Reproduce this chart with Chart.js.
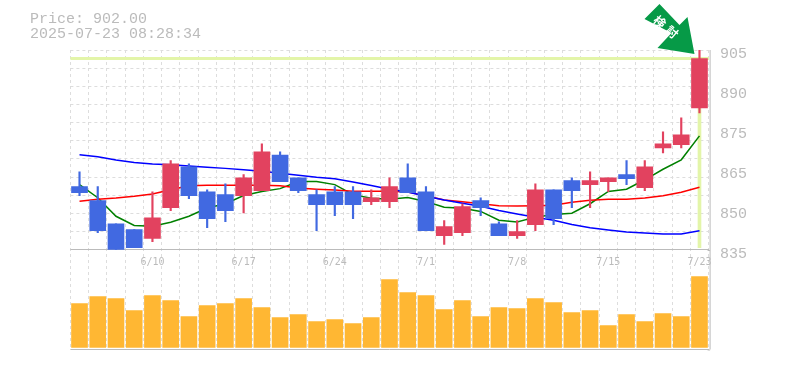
<!DOCTYPE html>
<html>
<head>
<meta charset="utf-8">
<style>
  html, body { margin: 0; padding: 0; background: #fff; }
  canvas { display: block; }
</style>
<script src="https://cdn.jsdelivr.net/npm/chart.js@4"></script>
</head>
<body>
<canvas id="chart-price" width="785" height="370"></canvas>
<script>
const dates = ["6/4", "6/5", "6/6", "6/9", "6/10", "6/11", "6/12", "6/13", "6/16", "6/17", "6/18", "6/19", "6/20", "6/23", "6/24", "6/25", "6/26", "6/27", "6/30", "7/1", "7/2", "7/3", "7/4", "7/7", "7/8", "7/9", "7/10", "7/11", "7/14", "7/15", "7/16", "7/17", "7/18", "7/22", "7/23"];
const shownDates = ["6/10", "6/17", "6/24", "7/1", "7/8", "7/15", "7/23"];

const opens = [857.1, 852.2, 844.1, 842.0, 838.9, 849.7, 864.0, 855.3, 854.3, 853.9, 855.7, 868.2, 860.2, 854.3, 855.3, 855.3, 851.8, 851.8, 860.2, 855.3, 839.9, 841.0, 852.2, 844.1, 839.9, 843.8, 856.0, 859.2, 857.8, 858.8, 861.3, 856.7, 870.7, 871.8, 884.7];
const closes = [855.0, 841.7, 834.6, 835.7, 846.2, 865.1, 853.9, 845.9, 848.7, 860.2, 869.3, 858.8, 855.7, 850.8, 850.8, 850.8, 853.2, 857.1, 855.0, 841.7, 843.1, 850.1, 849.7, 839.9, 841.3, 856.0, 845.9, 855.7, 859.2, 860.2, 859.9, 864.0, 872.1, 875.3, 902.0];
const highs = [862.3, 857.1, 844.1, 842.0, 855.3, 866.2, 865.1, 856.0, 858.1, 861.3, 872.1, 869.3, 860.2, 856.0, 857.1, 857.1, 856.0, 860.2, 865.1, 857.1, 845.2, 851.1, 853.2, 844.8, 845.2, 858.1, 856.0, 860.2, 862.3, 860.2, 866.2, 866.2, 876.3, 881.2, 905.0];
const lows = [853.9, 841.0, 834.6, 835.7, 837.8, 848.7, 852.9, 842.7, 844.8, 847.9, 855.7, 858.8, 855.0, 841.7, 846.9, 845.9, 850.8, 849.7, 855.0, 841.7, 836.8, 839.9, 846.9, 839.9, 838.9, 841.7, 843.8, 849.7, 849.7, 855.3, 857.8, 855.7, 868.9, 870.7, 882.9];

const maShort = [857.8, 853.2, 846.7, 843.5, 843.2, 844.6, 846.7, 849.6, 851.1, 854.0, 855.4, 856.4, 858.9, 858.9, 857.8, 854.3, 853.0, 852.7, 853.3, 851.9, 849.9, 849.5, 848.4, 845.3, 844.7, 846.4, 847.3, 847.8, 851.1, 855.4, 856.2, 859.5, 863.2, 866.5, 874.9];
const maMiddle = [852.0, 852.7, 853.1, 853.7, 854.5, 856.0, 857.4, 857.6, 857.6, 857.6, 857.6, 857.4, 856.6, 856.2, 855.9, 855.5, 855.5, 855.5, 855.2, 853.9, 852.4, 851.8, 851.1, 850.4, 850.3, 850.4, 850.6, 851.6, 852.3, 852.7, 852.7, 853.1, 853.9, 855.1, 856.9];
const maLong = [868.3, 867.6, 866.4, 865.6, 865.0, 864.8, 864.3, 863.9, 863.5, 863.0, 862.5, 861.8, 861.1, 860.4, 859.9, 858.7, 857.5, 856.2, 855.2, 853.7, 852.4, 851.3, 850.2, 848.7, 847.5, 846.4, 845.3, 843.8, 842.7, 841.9, 841.2, 840.8, 840.5, 840.5, 841.6];

const volumes = [44, 51, 49, 37, 52, 47, 31, 42, 44, 49, 40, 30, 33, 26, 28, 24, 30, 68, 55, 52, 38, 47, 31, 40, 39, 49, 45, 35, 37, 22, 33, 26, 34, 31, 71];

const currentPrice = 902;
const priceLabels = [905, 891, 877, 863, 849, 835];
const priceLabelText = ["905", "890", "875", "865", "850", "835"];
const priceGrid = [905, 898.64, 892.27, 885.91, 879.55, 873.18, 866.82, 860.45, 854.09, 847.73, 841.36, 835];
const headerLines = ["Price: 902.00", "2025-07-23 08:28:34"];
const arrowText = ["検", "討"];

const UP = "#e2425f";
const DOWN = "#4169e1";
const GRAY = "#bbbbbb";
const GRID = "#dddddd";
const MARK = "#e3f5a9";
const MONO = "'Liberation Mono', monospace";

const candleColors = opens.map((o, i) => (closes[i] >= o ? UP : DOWN));

// frame on the right, header text and the green arrow over the last candle
const overlay = {
  id: "overlay",
  afterDraw(chart) {
    const ctx = chart.ctx;
    const area = chart.chartArea;
    const frameX = area.right + 1.5;
    const midY = chart.scales.y.getPixelForValue(835);
    ctx.save();
    ctx.strokeStyle = GRAY;
    ctx.lineWidth = 1;
    ctx.beginPath();
    ctx.moveTo(frameX, area.top);
    ctx.lineTo(frameX, area.bottom);
    ctx.moveTo(area.right - 1, Math.round(midY) + 0.5);
    ctx.lineTo(frameX, Math.round(midY) + 0.5);
    ctx.moveTo(area.right - 1, area.bottom + 0.5);
    ctx.lineTo(frameX, area.bottom + 0.5);
    ctx.stroke();

    ctx.fillStyle = GRAY;
    ctx.font = "15px " + MONO;
    ctx.textBaseline = "alphabetic";
    ctx.fillText(headerLines[0], 30, 23);
    ctx.fillText(headerLines[1], 30, 38);

    const tipX = chart.scales.x.getPixelForValue(dates.length - 1) - 5;
    const tipY = chart.scales.y.getPixelForValue(903.6);
    ctx.translate(tipX, tipY);
    ctx.fillStyle = "#069a47";
    ctx.beginPath();
    ctx.moveTo(0, 0);
    ctx.lineTo(-37, -6);
    ctx.lineTo(-23, -21);
    ctx.lineTo(-50, -35);
    ctx.lineTo(-35, -50);
    ctx.lineTo(-15, -29);
    ctx.lineTo(-7, -37);
    ctx.closePath();
    ctx.fill();

    ctx.fillStyle = "#ffffff";
    ctx.font = "bold 12px 'Noto Sans CJK JP'";
    ctx.textAlign = "center";
    ctx.textBaseline = "middle";
    ctx.translate(-28.5, -27);
    ctx.rotate((40 * Math.PI) / 180);
    ctx.fillText(arrowText[0], -8, 0);
    ctx.fillText(arrowText[1], 8, 0);
    ctx.restore();
  },
};

const ctxPrice = document.getElementById("chart-price");
new Chart(ctxPrice, {
  data: {
    labels: dates,
    datasets: [
      {
        type: "bar",
        label: "Volume",
        data: volumes,
        yAxisID: "yVol",
        backgroundColor: "#ffb733",
        barThickness: 16,
        grouped: false,
        order: 8,
      },
      {
        type: "bar",
        label: "Current",
        data: dates.map((d, i) => (i === dates.length - 1 ? [835.7, currentPrice] : null)),
        backgroundColor: MARK,
        barThickness: 3,
        grouped: false,
        order: 7,
      },
      {
        type: "line",
        label: "MA short",
        data: maShort,
        borderColor: "green",
        borderWidth: 1.5,
        pointRadius: 0,
        order: 6,
      },
      {
        type: "line",
        label: "MA middle",
        data: maMiddle,
        borderColor: "red",
        borderWidth: 1.5,
        pointRadius: 0,
        order: 5,
      },
      {
        type: "line",
        label: "MA long",
        data: maLong,
        borderColor: "blue",
        borderWidth: 1.5,
        pointRadius: 0,
        order: 4,
      },
      {
        type: "bar",
        label: "High-Low",
        data: lows.map((l, i) => [l, highs[i]]),
        backgroundColor: candleColors,
        barThickness: 1.5,
        grouped: false,
        order: 3,
      },
      {
        type: "bar",
        label: "Open-Close",
        data: opens.map((o, i) => [o, closes[i]]),
        backgroundColor: candleColors,
        barThickness: 16,
        grouped: false,
        order: 2,
      },
    ],
  },
  options: {
    responsive: false,
    animation: false,
    layout: { padding: { left: 70.4, top: 50, bottom: 20, right: 0 } },
    plugins: {
      legend: { display: false },
      tooltip: { enabled: false },
    },
    scales: {
      x: {
        type: "category",
        position: { y: 835 },
        offset: true,
        border: { display: false, dash: [3, 3] },
        grid: { color: GRID, offset: true, drawTicks: false },
        ticks: {
          autoSkip: false,
          maxRotation: 0,
          padding: 7,
          color: GRAY,
          font: { family: "'DejaVu Sans Mono', monospace", size: 10 },
          callback(value) {
            const label = this.getLabelForValue(value);
            return shownDates.includes(label) ? label : "";
          },
        },
      },
      y: {
        type: "linear",
        position: "right",
        stack: "main",
        stackWeight: 2,
        weight: 1,
        min: 835,
        max: 905,
        afterFit(scale) {
          scale.width = 76.4;
        },
        afterBuildTicks(scale) {
          const values = [...new Set([...priceGrid, ...priceLabels, currentPrice])];
          scale.ticks = values.sort((a, b) => a - b).map((value) => ({ value }));
        },
        border: {
          display: false,
          dash: (c) => (c.tick && (c.tick.value === currentPrice || c.tick.value === 835) ? [] : [3, 3]),
        },
        grid: {
          drawTicks: false,
          color(c) {
            const v = c.tick.value;
            if (v === currentPrice) return MARK;
            if (v === 835) return GRAY;
            return priceGrid.includes(v) ? GRID : "rgba(0,0,0,0)";
          },
          lineWidth: (c) => (c.tick.value === currentPrice ? 3 : 1),
        },
        ticks: {
          padding: 11.5,
          labelOffset: 4,
          color: GRAY,
          font: { family: MONO, size: 15 },
          autoSkip: false,
          callback(value) {
            const i = priceLabels.indexOf(value);
            return i >= 0 ? priceLabelText[i] : "";
          },
        },
      },
      yVol: {
        type: "linear",
        position: "right",
        stack: "main",
        stackWeight: 1,
        weight: 2,
        min: -2,
        max: 98,
        afterFit(scale) {
          scale.width = 76.4;
        },
        afterBuildTicks(scale) {
          scale.ticks = [{ value: -2 }];
        },
        border: { display: false },
        grid: { color: GRAY, drawTicks: false },
        ticks: { display: false },
      },
    },
  },
  plugins: [overlay],
});
</script>
</body>
</html>
